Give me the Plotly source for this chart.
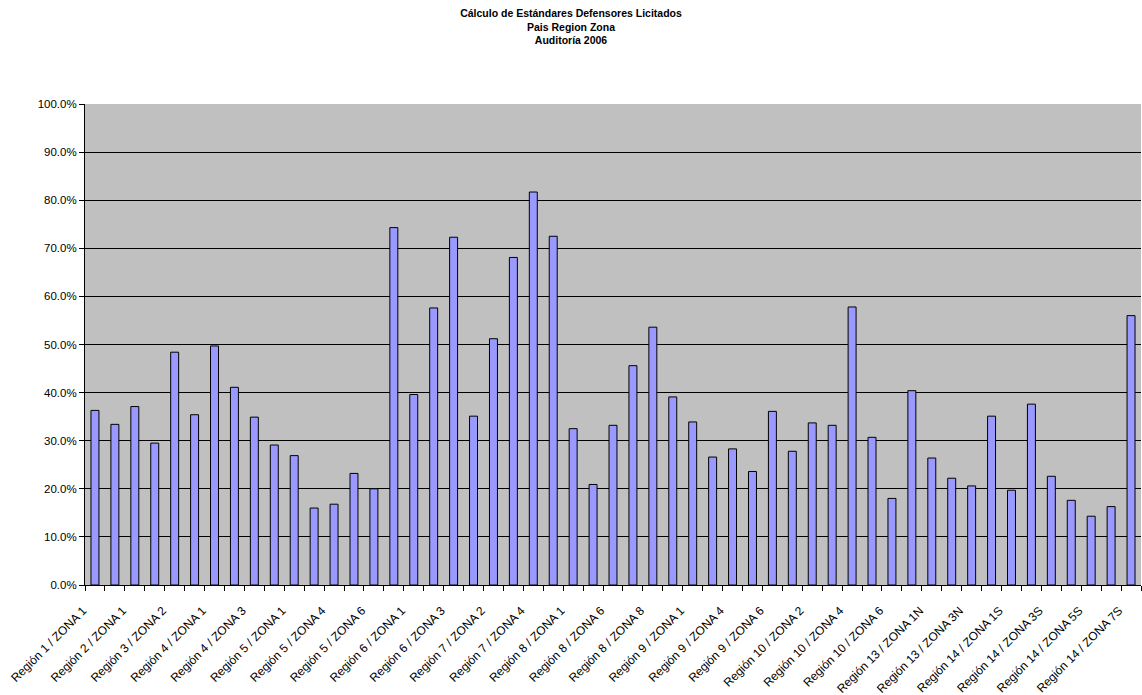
import plotly.graph_objects as go

categories = [
    "Región 1 / ZONA 1", "Región 1 / ZONA 2", "Región 2 / ZONA 1", "Región 3 / ZONA 1",
    "Región 3 / ZONA 2", "Región 3 / ZONA 3", "Región 4 / ZONA 1", "Región 4 / ZONA 2",
    "Región 4 / ZONA 3", "Región 4 / ZONA 4", "Región 5 / ZONA 1", "Región 5 / ZONA 3",
    "Región 5 / ZONA 4", "Región 5 / ZONA 5", "Región 5 / ZONA 6", "Región 5 / ZONA 7",
    "Región 6 / ZONA 1", "Región 6 / ZONA 2", "Región 6 / ZONA 3", "Región 7 / ZONA 1",
    "Región 7 / ZONA 2", "Región 7 / ZONA 3", "Región 7 / ZONA 4", "Región 7 / ZONA 5",
    "Región 8 / ZONA 1", "Región 8 / ZONA 5", "Región 8 / ZONA 6", "Región 8 / ZONA 7",
    "Región 8 / ZONA 8", "Región 8 / ZONA 9", "Región 9 / ZONA 1", "Región 9 / ZONA 3",
    "Región 9 / ZONA 4", "Región 9 / ZONA 5", "Región 9 / ZONA 6", "Región 10 / ZONA 1",
    "Región 10 / ZONA 2", "Región 10 / ZONA 3", "Región 10 / ZONA 4", "Región 10 / ZONA 5",
    "Región 10 / ZONA 6", "Región 11 / ZONA 1", "Región 13 / ZONA 1N", "Región 13 / ZONA 2N",
    "Región 13 / ZONA 3N", "Región 13 / ZONA 4N", "Región 14 / ZONA 1S", "Región 14 / ZONA 2S",
    "Región 14 / ZONA 3S", "Región 14 / ZONA 4S", "Región 14 / ZONA 5S", "Región 14 / ZONA 6S",
    "Región 14 / ZONA 7S",
]

values = [
    0.363, 0.334, 0.371, 0.295, 0.484, 0.354, 0.497, 0.411, 0.349, 0.291,
    0.269, 0.160, 0.168, 0.232, 0.200, 0.743, 0.396, 0.576, 0.723, 0.351,
    0.512, 0.681, 0.817, 0.725, 0.325, 0.209, 0.332, 0.456, 0.536, 0.391,
    0.339, 0.266, 0.283, 0.236, 0.361, 0.278, 0.337, 0.332, 0.578, 0.307,
    0.180, 0.404, 0.264, 0.222, 0.206, 0.351, 0.197, 0.376, 0.226, 0.176,
    0.143, 0.163, 0.560,
]

tick_labels = [c if i % 2 == 0 else "" for i, c in enumerate(categories)]
y_ticks = [i / 10 for i in range(11)]

fig = go.Figure(
    go.Bar(
        x=categories,
        y=values,
        marker=dict(color="#9999FF", line=dict(color="#000000", width=1)),
    )
)

fig.update_layout(
    width=1142,
    height=695,
    paper_bgcolor="white",
    plot_bgcolor="#C0C0C0",
    margin=dict(l=85, r=1, t=104, b=110, autoexpand=False),
    bargap=0.6,
    showlegend=False,
    font=dict(family="Liberation Sans, Arial, sans-serif", size=11, color="black"),
    title=dict(
        text="<b>Cálculo de Estándares Defensores Licitados<br>Pais Region Zona<br>Auditoría 2006</b>",
        x=0.5,
        xanchor="center",
        y=0.9755,
        yanchor="top",
        font=dict(size=10.5, color="black"),
    ),
)

fig.update_xaxes(
    type="category",
    tickmode="array",
    tickvals=categories,
    ticktext=tick_labels,
    tickangle=-45,
    tickson="boundaries",
    ticks="outside",
    ticklen=5,
    tickcolor="black",
    ticklabelshift=-12,
    ticklabelstandoff=13,
    showline=True,
    linecolor="black",
    linewidth=1,
    showgrid=False,
    automargin=False,
    tickfont=dict(size=12, color="black"),
)

fig.update_yaxes(
    range=[0, 1.0],
    tickvals=y_ticks,
    tickformat=".1%",
    ticks="outside",
    ticklen=5,
    tickcolor="black",
    showline=True,
    linecolor="black",
    linewidth=1,
    gridcolor="#000000",
    gridwidth=1,
    zeroline=False,
    automargin=False,
    tickfont=dict(size=11.5, color="black"),
)

fig.write_html(
    "out.html",
    config={"displayModeBar": False},
    post_script="document.body.style.margin='0';",
)
